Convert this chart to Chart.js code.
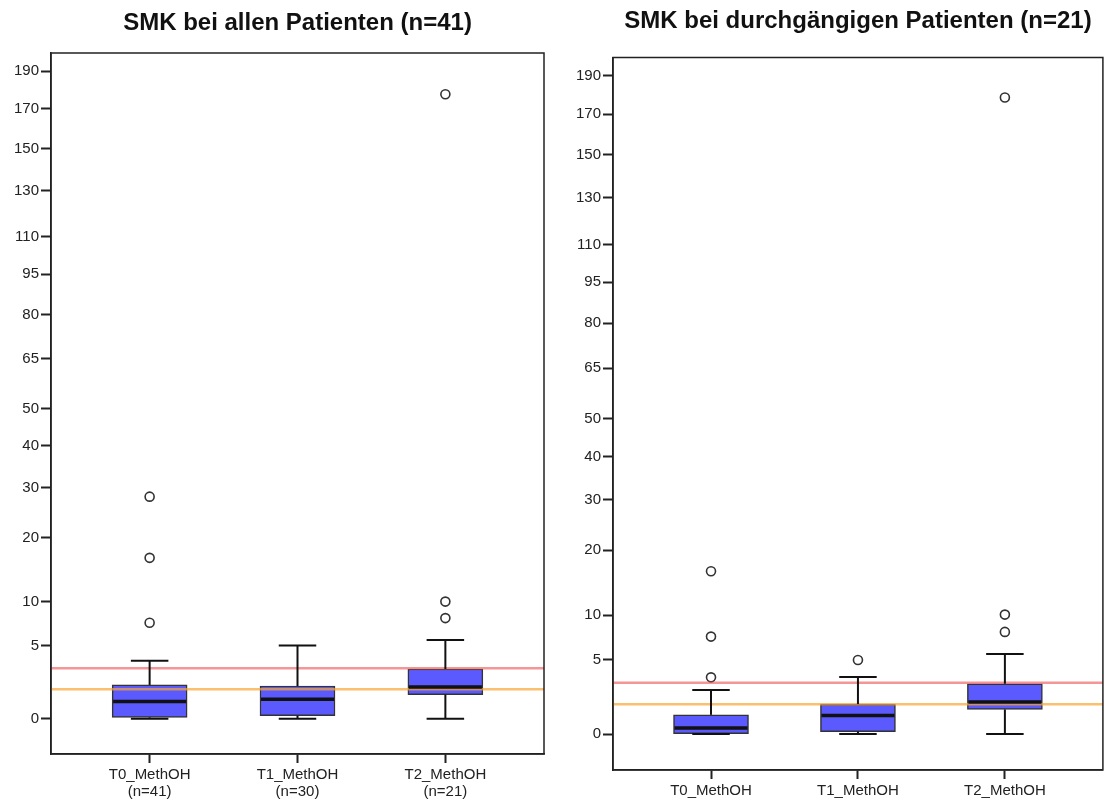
<!DOCTYPE html>
<html>
<head>
<meta charset="utf-8">
<title>SMK Boxplots</title>
<script src="https://cdn.jsdelivr.net/npm/chart.js@4.4.1/dist/chart.umd.min.js"></script>
<style>
  body { margin: 0; background: #fff; }
  .wrap { position: absolute; top: 0; height: 800px; }
  #left { left: 0; width: 556px; }
  #right { left: 556px; width: 553px; }
</style>
</head>
<body>
<div class="wrap" id="left"><canvas id="chart-all"></canvas></div>
<div class="wrap" id="right"><canvas id="chart-cont"></canvas></div>
<script>
const categories = ['T0_MethOH', 'T1_MethOH', 'T2_MethOH'];
const groupSizes = ['(n=41)', '(n=30)', '(n=21)'];
const yTicks = [0, 5, 10, 20, 30, 40, 50, 65, 80, 95, 110, 130, 150, 170, 190];
const refRed = 3;
const refOrange = 1.5;

// alle Patienten (n=41)
const allLow = [0, 0, 0];
const allQ1 = [0.05, 0.12, 1.18];
const allMedian = [0.8, 0.91, 1.65];
const allQ3 = [1.78, 1.71, 2.93];
const allHigh = [3.6, 5.0, 5.54];
const allOutliers = [[7.4, 16.5, 28.1], [], [7.94, 10.0, 177.5]];

// durchgängige Patienten (n=21)
const contLow = [0, 0, 0];
const contQ1 = [0, 0.1, 1.19];
const contMedian = [0.25, 0.86, 1.64];
const contQ3 = [0.89, 1.51, 2.92];
const contHigh = [2.45, 3.46, 5.55];
const contOutliers = [[3.43, 7.4, 16.4], [4.97], [7.94, 10.07, 178.5]];

const BOX_WIDTH = 75;

Chart.defaults.font.family = '"Liberation Sans", Arial, sans-serif';
Chart.defaults.color = '#222';

// y-Achse mit Wurzeltransformation (sqrt(x+1)), wie im SPSS-Diagramm
const sq = (v) => Math.sqrt(v + 1);
class SqrtScale extends Chart.LinearScale {
  getPixelForValue(value) {
    const a = sq(this.min), b = sq(this.max);
    return this.getPixelForDecimal((sq(value) - a) / (b - a));
  }
  getValueForPixel(pixel) {
    const a = sq(this.min), b = sq(this.max);
    const t = a + this.getDecimalForPixel(pixel) * (b - a);
    return t * t - 1;
  }
}
SqrtScale.id = 'sqrt';
SqrtScale.defaults = Chart.LinearScale.defaults;
Chart.register(SqrtScale);

const boxPlotLines = {
  id: 'boxPlotLines',
  afterDatasetsDraw(chart, args, opts) {
    const { ctx, chartArea: area, scales: { x, y } } = chart;
    const s = opts.stats;
    const line = (x1, y1, x2, y2) => {
      ctx.beginPath(); ctx.moveTo(x1, y1); ctx.lineTo(x2, y2); ctx.stroke();
    };
    ctx.save();
    // Referenzlinien
    ctx.lineWidth = 2.5;
    ctx.strokeStyle = 'rgba(238, 80, 80, 0.6)';
    line(area.left, y.getPixelForValue(refRed), area.right, y.getPixelForValue(refRed));
    ctx.strokeStyle = 'rgba(250, 165, 50, 0.7)';
    line(area.left, y.getPixelForValue(refOrange), area.right, y.getPixelForValue(refOrange));

    const half = BOX_WIDTH / 2;
    s.median.forEach((m, i) => {
      const px = x.getPixelForValue(i);
      const yHi = y.getPixelForValue(s.high[i]);
      const yLo = y.getPixelForValue(s.low[i]);
      ctx.strokeStyle = '#111';
      ctx.lineWidth = 2;
      line(px, y.getPixelForValue(s.q3[i]), px, yHi);
      line(px, y.getPixelForValue(s.q1[i]), px, yLo);
      line(px - half / 2, yHi, px + half / 2, yHi);
      line(px - half / 2, yLo, px + half / 2, yLo);
      ctx.lineWidth = 3.5;
      const ym = y.getPixelForValue(m);
      line(px - half + 1, ym, px + half - 1, ym);
    });
    // Rahmen
    ctx.strokeStyle = '#222';
    ctx.lineWidth = 1.5;
    ctx.strokeRect(area.left, area.top, area.right - area.left, area.bottom - area.top);
    ctx.restore();
  }
};

function makeChart(canvasId, title, stats, withN, geo) {
  const outlierPoints = [];
  stats.outliers.forEach((list, i) => list.forEach((v) => outlierPoints.push({ x: i, y: v })));
  return new Chart(document.getElementById(canvasId).getContext('2d'), {
    type: 'bar',
    data: {
      datasets: [
        {
          type: 'bar',
          data: stats.q1.map((q, i) => ({ x: i, y: [q, stats.q3[i]] })),
          backgroundColor: '#5a5aff',
          borderColor: '#333',
          borderWidth: 1.5,
          borderSkipped: false,
          barThickness: BOX_WIDTH,
        },
        {
          type: 'scatter',
          data: outlierPoints,
          pointStyle: 'circle',
          pointRadius: 4.5,
          borderColor: '#333',
          backgroundColor: '#fff',
          borderWidth: 1.6,
        },
      ],
    },
    options: {
      responsive: true,
      maintainAspectRatio: false,
      animation: false,
      events: [],
      layout: { padding: { left: 0, right: geo.padRight, top: 0, bottom: 0 } },
      plugins: {
        legend: { display: false },
        tooltip: { enabled: false },
        title: {
          display: true,
          text: title,
          fullSize: false,
          color: '#111',
          font: { size: 24, weight: 'bold' },
          padding: { top: geo.titleTop, bottom: geo.titleBottom },
        },
        boxPlotLines: { stats },
      },
      scales: {
        x: {
          type: 'linear',
          min: -0.667,
          max: 2.667,
          offset: false,
          afterBuildTicks: (axis) => { axis.ticks = categories.map((c, i) => ({ value: i })); },
          afterFit: (axis) => { axis.height = geo.xHeight; },
          grid: { display: true, offset: false, drawOnChartArea: false, tickLength: 9, tickColor: '#222', tickWidth: 2 },
          border: { display: true, color: '#222', width: 1.5 },
          ticks: {
            autoSkip: false,
            maxRotation: 0,
            padding: 4,
            color: '#222',
            font: { size: 15, lineHeight: 1.1 },
            callback: (v) => (withN ? [categories[v], groupSizes[v]] : categories[v]),
          },
        },
        y: {
          type: 'sqrt',
          min: -0.91,
          max: 200,
          bounds: 'data',
          afterBuildTicks: (axis) => { axis.ticks = yTicks.map((v) => ({ value: v })); },
          afterFit: (axis) => { axis.width = geo.yWidth; },
          grid: { display: true, drawOnChartArea: false, tickLength: 10, tickColor: '#222', tickWidth: 2 },
          border: { display: true, color: '#222', width: 1.5 },
          ticks: {
            autoSkip: false,
            padding: 2,
            color: '#222',
            font: { size: 15 },
            callback: (v) => String(v),
          },
        },
      },
    },
    plugins: [boxPlotLines],
  });
}

makeChart('chart-all', 'SMK bei allen Patienten (n=41)', {
  low: allLow, q1: allQ1, median: allMedian, q3: allQ3, high: allHigh, outliers: allOutliers,
}, true, { padRight: 12, yWidth: 51, xHeight: 46, titleTop: 9, titleBottom: 15.2 });

makeChart('chart-cont', 'SMK bei durchgängigen Patienten (n=21)', {
  low: contLow, q1: contQ1, median: contMedian, q3: contQ3, high: contHigh, outliers: contOutliers,
}, false, { padRight: 4, yWidth: 57, xHeight: 30, titleTop: 7, titleBottom: 21.7 });
</script>
</body>
</html>
